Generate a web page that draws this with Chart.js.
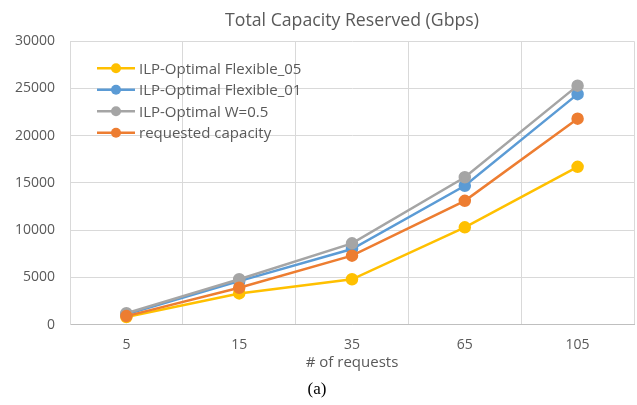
<!DOCTYPE html>
<html>
<head>
<meta charset="utf-8">
<script src="https://cdn.jsdelivr.net/npm/chart.js@4/dist/chart.umd.min.js"></script>
<style>
  html, body { margin: 0; padding: 0; background: #fff; overflow: hidden; }
  canvas { display: block; }
</style>
</head>
<body>
<canvas id="capacity-chart" width="637" height="405"></canvas>
<script>
// Data
var requests = ["5", "15", "35", "65", "105"];
var flexible05 = [800, 3300, 4800, 10300, 16700];
var flexible01 = [1100, 4600, 8000, 14700, 24400];
var optimalW05 = [1200, 4800, 8600, 15600, 25300];
var requested = [900, 3900, 7300, 13100, 21800];
var seriesNames = ["ILP-Optimal Flexible_05", "ILP-Optimal Flexible_01", "ILP-Optimal W=0.5", "requested capacity"];
var seriesColors = ["#FFC000", "#5B9BD5", "#A5A5A5", "#ED7D31"];
var yTicks = [0, 5000, 10000, 15000, 20000, 25000, 30000];

var textGrey = "#595959";
var uiFont = "'Open Sans', sans-serif";

function makeSet(i, values, order) {
    return {
        label: seriesNames[i],
        data: values,
        borderColor: seriesColors[i],
        backgroundColor: seriesColors[i],
        pointBackgroundColor: seriesColors[i],
        pointBorderColor: seriesColors[i],
        borderWidth: 2.5,
        pointRadius: 5,
        pointHoverRadius: 5,
        tension: 0,
        order: order
    };
}

// legend drawn inside the plot, line + marker like the original
var insideLegend = {
    id: "insideLegend",
    afterDraw: function(chart) {
        var ctx = chart.ctx;
        var area = chart.chartArea;
        var x0 = area.left + 27, y0 = area.top + 27, step = 21.5;
        ctx.save();
        ctx.font = "15px " + uiFont;
        ctx.textBaseline = "middle";
        chart.data.datasets.forEach(function(ds, i) {
            var y = y0 + i * step;
            ctx.strokeStyle = ds.borderColor;
            ctx.lineWidth = 2.5;
            ctx.beginPath();
            ctx.moveTo(x0, y);
            ctx.lineTo(x0 + 38, y);
            ctx.stroke();
            ctx.fillStyle = ds.borderColor;
            ctx.beginPath();
            ctx.arc(x0 + 19, y, 5, 0, Math.PI * 2);
            ctx.fill();
            ctx.fillStyle = textGrey;
            ctx.fillText(ds.label, x0 + 42, y + 1);
        });
        ctx.restore();
    }
};

var ctx = document.getElementById("capacity-chart");

var chartData = {
    labels: requests,
    datasets: [
        makeSet(0, flexible05, 3),
        makeSet(1, flexible01, 2),
        makeSet(2, optimalW05, 1),
        makeSet(3, requested, 0)
    ]
};

var chartOptions = {
    responsive: false,
    animation: false,
    layout: { autoPadding: false, padding: { top: 10, right: 3, left: 0, bottom: 0 } },
    plugins: {
        legend: { display: false },
        tooltip: { enabled: false },
        title: {
            display: true,
            fullSize: false,
            text: "Total Capacity Reserved (Gbps)",
            color: textGrey,
            font: { family: uiFont, size: 17.7, weight: "normal" },
            padding: { top: 0, bottom: 10 }
        },
        subtitle: {
            display: true,
            position: "bottom",
            text: "(a)",
            color: "#000",
            font: { family: "'Liberation Serif', serif", size: 17, weight: "normal" },
            padding: { top: 8, bottom: 5 }
        }
    },
    scales: {
        x: {
            offset: true,
            afterFit: function(scale) { scale.height = 47; },
            grid: { color: "#d9d9d9", lineWidth: 1, offset: true, drawTicks: false },
            border: { color: "#bfbfbf" },
            ticks: { color: textGrey, font: { family: uiFont, size: 14 }, padding: 12 },
            title: {
                display: true,
                text: "# of requests",
                color: textGrey,
                font: { family: uiFont, size: 15 },
                padding: { top: 0, bottom: 0 }
            }
        },
        y: {
            min: 0,
            max: 30000,
            afterBuildTicks: function(scale) {
                scale.ticks = yTicks.map(function(v) { return { value: v }; });
            },
            afterFit: function(scale) { scale.width = 70; },
            grid: { color: "#d9d9d9", lineWidth: 1, drawTicks: false },
            border: { color: "#d9d9d9" },
            ticks: {
                color: textGrey,
                font: { family: uiFont, size: 14 },
                padding: 15,
                callback: function(v) { return String(v); }
            }
        }
    }
};

var capacityChart = new Chart(ctx, {
    type: "line",
    data: chartData,
    options: chartOptions,
    plugins: [insideLegend]
});
</script>
</body>
</html>
